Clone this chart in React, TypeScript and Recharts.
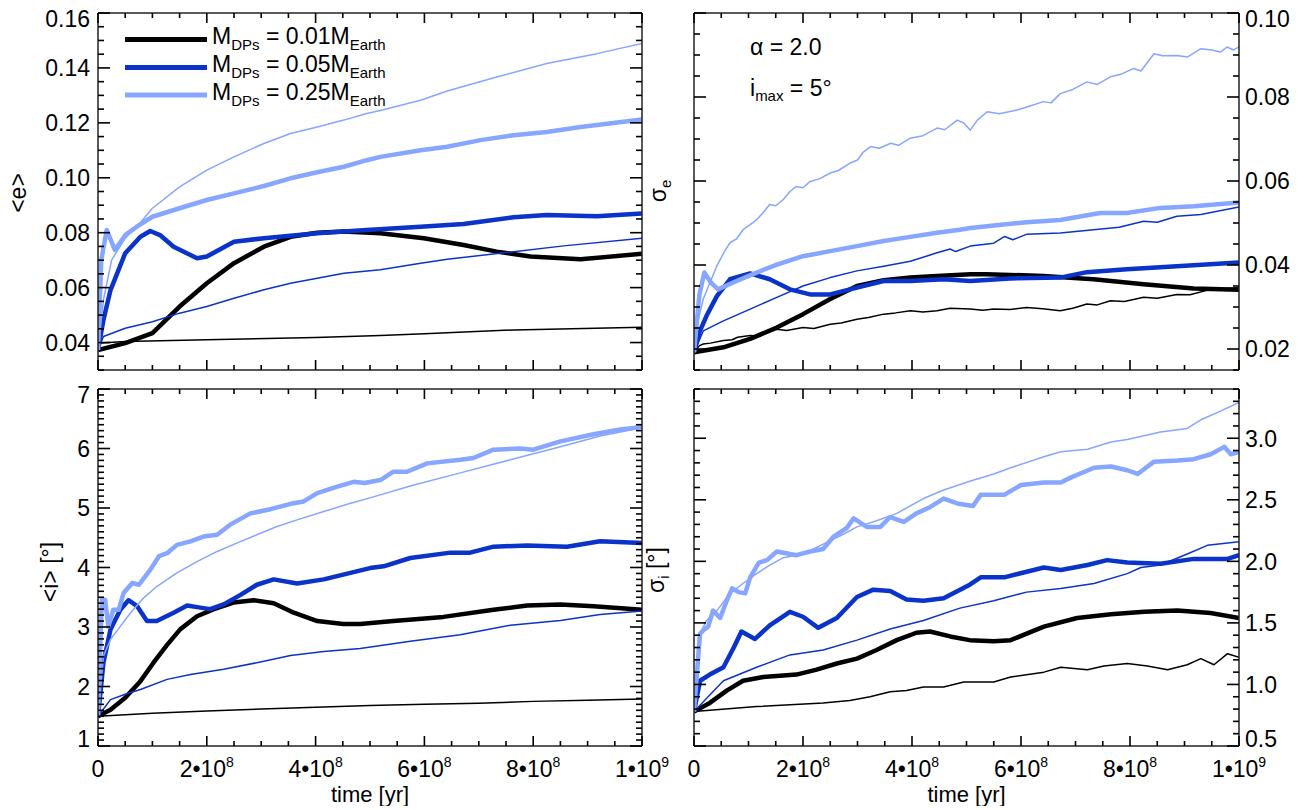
import React from "react";
import { LineChart, Line, XAxis, YAxis } from "recharts";

type Pt = [number, number];

const BLACK = "#000000";
const BLUE = "#0a33c9";
const LIGHT = "#86a6ff";
const AXIS = "#222222";
const TICK = "#000000";
const FONT = '"Liberation Sans", Arial, Helvetica, sans-serif';

// time axis in units of 1e8 yr
const X_TICK_STEP = 0.5;
const X_MAJOR_STEP = 2;
const X_LABELS: Record<number, [string, string]> = {
  0: ["0", ""],
  2: ["2•10", "8"],
  4: ["4•10", "8"],
  6: ["6•10", "8"],
  8: ["8•10", "8"],
  10: ["1•10", "9"],
};

// ---- <e> ----
const eThickBlack: Pt[] = [[0,0.0373],[0.5,0.0398],[1,0.0434],[1.5,0.0531],[2,0.0616],[2.5,0.0689],[3.05,0.0749],[3.54,0.0785],[4.03,0.08],[4.52,0.0804],[5.19,0.0798],[5.99,0.078],[6.72,0.0755],[7.33,0.0731],[7.95,0.0713],[8.87,0.0703],[10,0.0723]];
const eThinBlack: Pt[] = [[0,0.0373],[0.05,0.0398],[0.5,0.0404],[2,0.041],[4,0.0418],[5.19,0.0426],[6,0.0432],[7.64,0.0446],[10,0.0456]];
const eThickBlue: Pt[] = [[0,0.0373],[0.1,0.0482],[0.23,0.0591],[0.5,0.0725],[0.78,0.0785],[0.96,0.0806],[1.15,0.079],[1.39,0.0749],[1.82,0.0707],[2,0.0713],[2.5,0.0767],[3.05,0.078],[4.03,0.0798],[4.94,0.081],[5.93,0.0822],[6.72,0.0832],[7.64,0.0856],[8.25,0.0864],[9.17,0.086],[10,0.087]];
const eThinBlue: Pt[] = [[0,0.0373],[0.1,0.0422],[0.5,0.0452],[1,0.0476],[1.5,0.0507],[2,0.0531],[2.5,0.0561],[3.05,0.0592],[3.54,0.0616],[4.03,0.0634],[4.52,0.0652],[5.19,0.0665],[5.93,0.0689],[6.42,0.0703],[7.64,0.0731],[8.56,0.0752],[10,0.078]];
const eThickLight: Pt[] = [[0,0.0373],[0.06,0.07],[0.16,0.081],[0.31,0.0737],[0.5,0.0791],[0.7,0.082],[1,0.0858],[1.5,0.0889],[2,0.0919],[2.5,0.0943],[3.05,0.097],[3.54,0.0998],[4.03,0.102],[4.52,0.104],[4.94,0.1064],[5.19,0.1076],[5.93,0.11],[6.42,0.1113],[7.03,0.1137],[7.64,0.1155],[8.25,0.1167],[8.87,0.1185],[10,0.1212]];
const eThinLight: Pt[] = [[0,0.0373],[0.1,0.0555],[0.25,0.07],[0.5,0.078],[0.75,0.083],[1,0.0889],[1.5,0.0967],[2,0.1028],[2.5,0.1076],[3.05,0.1125],[3.54,0.1161],[4.03,0.1185],[4.52,0.121],[4.94,0.1234],[5.19,0.1245],[5.93,0.1282],[6.42,0.1316],[7.33,0.1367],[8.25,0.1416],[9.17,0.1452],[10,0.1489]];

// ---- sigma_e ----
const seThickBlack: Pt[] = [[0,0.0192],[0.54,0.0204],[1.03,0.0224],[1.52,0.0251],[2,0.0283],[2.5,0.0319],[2.99,0.035],[3.48,0.0364],[3.97,0.037],[4.46,0.0374],[5.07,0.0378],[5.37,0.0378],[6.41,0.0374],[7.33,0.0366],[8.25,0.0354],[9.17,0.0344],[10,0.0341]];
const seThinBlack: Pt[] = [[0,0.0192],[0.1,0.0208],[0.17,0.0212],[0.3,0.0214],[0.54,0.022],[0.7,0.0222],[0.8,0.0228],[1.03,0.0232],[1.2,0.0231],[1.3,0.0238],[1.52,0.0247],[1.7,0.0244],[2,0.0251],[2.2,0.0249],[2.5,0.0259],[2.7,0.0262],[2.99,0.0271],[3.2,0.0275],[3.48,0.0283],[3.7,0.0286],[3.97,0.0291],[4.2,0.0288],[4.46,0.0291],[4.7,0.0297],[5.07,0.0295],[5.3,0.0292],[5.5,0.0295],[5.8,0.0294],[6.1,0.0299],[6.4,0.0296],[6.72,0.0291],[6.95,0.0297],[7.21,0.0307],[7.4,0.0305],[7.64,0.0315],[7.9,0.0313],[8.25,0.0323],[8.5,0.0321],[8.86,0.033],[9.1,0.0329],[9.48,0.0342],[9.75,0.0344],[10,0.0346]];
const seThickBlue: Pt[] = [[0,0.0192],[0.1,0.024],[0.23,0.0279],[0.42,0.0326],[0.66,0.0366],[1.03,0.038],[1.39,0.0366],[1.76,0.0342],[2.13,0.033],[2.5,0.033],[2.99,0.0346],[3.48,0.0362],[3.97,0.0362],[4.58,0.0366],[5.07,0.0362],[5.8,0.0368],[6.72,0.037],[7.21,0.0383],[7.94,0.039],[8.86,0.0397],[10,0.0406]];
const seThinBlue: Pt[] = [[0,0.0192],[0.17,0.0243],[0.54,0.0267],[1.03,0.0295],[1.52,0.0323],[2,0.035],[2.5,0.037],[2.99,0.0386],[3.48,0.0397],[3.97,0.0409],[4.46,0.0429],[4.7,0.0438],[4.8,0.0432],[5.07,0.0445],[5.5,0.0452],[5.7,0.0468],[5.85,0.046],[6.1,0.0473],[6.72,0.0476],[7.33,0.0484],[7.8,0.049],[8.25,0.0504],[8.5,0.0502],[8.86,0.0516],[9.3,0.052],[10,0.0538]];
const seThickLight: Pt[] = [[0,0.0192],[0.1,0.033],[0.19,0.0382],[0.3,0.036],[0.44,0.0342],[0.78,0.0362],[1.15,0.0382],[1.52,0.0401],[2,0.0421],[2.5,0.0433],[2.99,0.0445],[3.48,0.0457],[3.97,0.0467],[4.46,0.0477],[4.88,0.0484],[5.07,0.0488],[6.1,0.0502],[6.72,0.0507],[7.45,0.0524],[7.94,0.0524],[8.56,0.0536],[9.17,0.054],[10,0.0549]];
const seThinLight: Pt[] = [[0,0.0192],[0.08,0.027],[0.17,0.0319],[0.3,0.036],[0.42,0.0398],[0.55,0.043],[0.66,0.0453],[0.78,0.0462],[0.9,0.0484],[1.02,0.0495],[1.15,0.0508],[1.27,0.0525],[1.39,0.0544],[1.5,0.0541],[1.64,0.0556],[1.76,0.0575],[1.88,0.0587],[2,0.0584],[2.13,0.0599],[2.3,0.0605],[2.5,0.0619],[2.65,0.0625],[2.87,0.0643],[3,0.065],[3.1,0.0668],[3.24,0.0682],[3.4,0.0678],[3.61,0.069],[3.75,0.0685],[3.97,0.0702],[4.2,0.0708],[4.46,0.0726],[4.6,0.0722],[4.83,0.0745],[4.95,0.0738],[5.07,0.0721],[5.2,0.0745],[5.38,0.0765],[5.6,0.076],[5.93,0.0769],[6.15,0.0778],[6.41,0.0789],[6.55,0.0786],[6.72,0.0808],[6.95,0.0818],[7.21,0.0836],[7.4,0.083],[7.64,0.0848],[7.85,0.0855],[8.07,0.0868],[8.2,0.0862],[8.44,0.0903],[8.6,0.0898],[8.86,0.0899],[9.05,0.0895],[9.3,0.0915],[9.5,0.0912],[9.66,0.0907],[9.78,0.0919],[9.9,0.0912],[10,0.0919]];

// ---- <i> ----
const iThickBlack: Pt[] = [[0,1.5],[0.23,1.61],[0.5,1.81],[0.78,2.09],[1.02,2.4],[1.27,2.7],[1.51,2.96],[1.82,3.18],[2.13,3.3],[2.49,3.41],[2.86,3.45],[3.23,3.4],[3.6,3.24],[4.03,3.1],[4.51,3.05],[4.82,3.05],[5.43,3.1],[6.35,3.17],[7.27,3.29],[7.89,3.36],[8.5,3.38],[9.11,3.35],[10,3.29]];
const iThinBlack: Pt[] = [[0,1.5],[1,1.55],[2,1.59],[3,1.62],[4,1.65],[5,1.68],[6,1.7],[7,1.72],[8,1.75],[9,1.77],[10,1.79]];
const iThickBlue: Pt[] = [[0,1.5],[0.1,2.4],[0.23,2.96],[0.41,3.29],[0.56,3.45],[0.72,3.35],[0.9,3.1],[1.08,3.1],[1.39,3.24],[1.64,3.36],[1.85,3.33],[2.06,3.3],[2.31,3.38],[2.62,3.54],[2.92,3.71],[3.23,3.8],[3.66,3.73],[4.15,3.8],[4.64,3.91],[5,3.99],[5.25,4.02],[5.74,4.16],[6.48,4.25],[6.84,4.25],[7.27,4.35],[7.89,4.37],[8.62,4.35],[9.23,4.44],[10,4.41]];
const iThinBlue: Pt[] = [[0,1.5],[0.23,1.78],[0.5,1.87],[0.78,1.95],[1.27,2.12],[1.7,2.2],[2.31,2.29],[2.92,2.4],[3.54,2.52],[4.15,2.59],[4.82,2.64],[5.74,2.76],[6.66,2.87],[7.58,3.03],[8.5,3.11],[9.23,3.21],[10,3.27]];
const iThickLight: Pt[] = [[0,1.5],[0.07,3.46],[0.13,3.46],[0.19,3.01],[0.28,3.29],[0.38,3.29],[0.47,3.57],[0.63,3.74],[0.75,3.71],[0.96,3.96],[1.12,4.19],[1.27,4.24],[1.45,4.38],[1.7,4.44],[1.94,4.52],[2.19,4.55],[2.43,4.72],[2.8,4.91],[3.17,4.98],[3.54,5.07],[3.78,5.11],[4.03,5.25],[4.4,5.36],[4.7,5.44],[4.9,5.42],[5.19,5.47],[5.43,5.61],[5.68,5.61],[6.05,5.75],[6.66,5.81],[6.9,5.84],[7.27,5.98],[7.76,6],[8,5.98],[8.5,6.12],[9.11,6.24],[9.6,6.32],[10,6.36]];
const iThinLight: Pt[] = [[0,1.5],[0.1,2.51],[0.23,2.79],[0.41,3.01],[0.6,3.24],[0.84,3.49],[1.08,3.68],[1.45,3.91],[1.82,4.1],[2.19,4.27],[2.55,4.41],[2.92,4.55],[3.29,4.69],[3.66,4.8],[4.15,4.94],[4.64,5.08],[5,5.17],[5.74,5.37],[6.66,5.59],[7.58,5.81],[8.5,6.03],[9.23,6.21],[10,6.35]];

// ---- sigma_i ----
const siThickBlack: Pt[] = [[0,0.78],[0.29,0.85],[0.6,0.95],[0.9,1.03],[1.27,1.06],[1.88,1.08],[2.25,1.12],[2.62,1.17],[2.99,1.21],[3.35,1.28],[3.72,1.36],[4.08,1.42],[4.33,1.43],[4.7,1.39],[5.06,1.36],[5.5,1.35],[5.81,1.36],[6.42,1.47],[7.03,1.54],[7.65,1.57],[8.26,1.59],[8.87,1.6],[9.48,1.58],[10,1.54]];
const siThinBlack: Pt[] = [[0,0.78],[1.15,0.82],[2.37,0.85],[2.86,0.87],[3.23,0.9],[3.6,0.94],[3.9,0.95],[4.21,0.98],[4.58,0.98],[4.95,1.02],[5.5,1.02],[5.81,1.06],[6.42,1.1],[6.73,1.14],[7.22,1.12],[7.52,1.15],[7.95,1.17],[8.32,1.15],[8.69,1.12],[9.05,1.16],[9.3,1.21],[9.54,1.16],[9.79,1.25],[10,1.22]];
const siThickBlue: Pt[] = [[0,0.78],[0.11,1.03],[0.29,1.08],[0.54,1.14],[0.73,1.3],[0.87,1.43],[1.12,1.37],[1.39,1.48],[1.76,1.59],[2,1.55],[2.28,1.46],[2.62,1.54],[2.99,1.71],[3.29,1.77],[3.6,1.76],[3.9,1.69],[4.21,1.68],[4.58,1.7],[5.06,1.81],[5.26,1.87],[5.69,1.87],[6.42,1.95],[6.73,1.93],[7.22,1.97],[7.58,2.01],[7.95,1.99],[8.56,1.98],[9.17,2.02],[9.79,2.02],[10,2.05]];
const siThinBlue: Pt[] = [[0,0.78],[0.54,1.03],[1.15,1.14],[1.76,1.24],[2.37,1.28],[2.99,1.36],[3.6,1.45],[4.21,1.52],[4.88,1.62],[5.5,1.68],[6.1,1.75],[6.73,1.78],[7.34,1.82],[7.95,1.9],[8.2,1.95],[8.56,1.97],[9.05,2.06],[9.42,2.13],[10,2.16]];
const siThickLight: Pt[] = [[0,0.78],[0.11,1.41],[0.17,1.44],[0.26,1.47],[0.35,1.6],[0.48,1.54],[0.6,1.68],[0.7,1.78],[0.82,1.75],[0.94,1.74],[1.03,1.87],[1.19,1.99],[1.34,2.01],[1.52,2.08],[1.88,2.05],[2.13,2.08],[2.37,2.1],[2.56,2.2],[2.8,2.27],[2.93,2.35],[3.17,2.28],[3.42,2.28],[3.6,2.36],[3.85,2.32],[4.08,2.39],[4.33,2.44],[4.58,2.51],[4.83,2.47],[5.12,2.45],[5.26,2.54],[5.69,2.54],[6,2.62],[6.42,2.64],[6.73,2.64],[6.91,2.68],[7.34,2.76],[7.65,2.77],[7.95,2.74],[8.14,2.71],[8.44,2.81],[8.87,2.82],[9.17,2.83],[9.48,2.87],[9.73,2.93],[9.85,2.87],[10,2.89]];
const siThinLight: Pt[] = [[0,0.78],[0.11,1.41],[0.23,1.52],[0.42,1.6],[0.66,1.74],[0.9,1.82],[1.15,1.9],[1.39,1.97],[1.64,2.03],[2,2.06],[2.37,2.14],[2.74,2.22],[2.99,2.28],[3.35,2.33],[3.72,2.39],[4.21,2.51],[4.58,2.58],[5.06,2.65],[5.5,2.71],[5.81,2.76],[6.42,2.85],[6.73,2.89],[7.22,2.91],[7.65,2.97],[7.95,2.99],[8.56,3.05],[9.05,3.08],[9.3,3.15],[9.66,3.22],[10,3.29]];

const THICK = 4.5;
const THIN = 1.5;
const MINOR_LEN = 6;
const MAJOR_LEN = 12;

type Series = { pts: Pt[]; color: string; width: number };

function range(lo: number, hi: number, step: number) {
  const out: number[] = [];
  const n = Math.round((hi - lo) / step);
  for (let i = 0; i <= n; i++) out.push(Math.round((lo + i * step) * 1e6) / 1e6);
  return out;
}
const isMajor = (v: number, step: number) => Math.abs(v / step - Math.round(v / step)) < 1e-6;
const rows = (pts: Pt[]) => pts.map(([t, v]) => ({ t, v }));

const X_TICKS = range(0, 10, X_TICK_STEP);

function XTick(props: any) {
  const x = Number(props.x);
  const y = Number(props.y);
  const v = Number(props.payload.value);
  const side: "top" | "bottom" = props.side;
  const major = isMajor(v, X_MAJOR_STEP);
  const len = major ? MAJOR_LEN - 2 : MINOR_LEN - 1;
  const dir = side === "bottom" ? -1 : 1;
  const lab = X_LABELS[v];
  return (
    <g>
      <line x1={x} y1={y} x2={x} y2={y + dir * len} stroke={TICK} strokeWidth={1.6} />
      {props.showLabel && major && lab && (
        <text x={x} y={y + 31} textAnchor="middle" fontSize={23} fontFamily={FONT} fill="#000">
          {lab[0]}
          {lab[1] && (
            <tspan dy={-10} fontSize={14}>
              {lab[1]}
            </tspan>
          )}
        </text>
      )}
    </g>
  );
}

function YTick(props: any) {
  const x = Number(props.x);
  const y = Number(props.y);
  const v = Number(props.payload.value);
  const side: "left" | "right" = props.side;
  const maj = isMajor(v, props.major);
  const len = maj ? MAJOR_LEN : MINOR_LEN;
  const dir = side === "left" ? 1 : -1;
  let ly = y;
  if (Math.abs(v - props.hi) < 1e-9) ly += 6;
  if (Math.abs(v - props.lo) < 1e-9) ly -= 7;
  return (
    <g>
      <line x1={x} y1={y} x2={x + dir * len} y2={y} stroke={TICK} strokeWidth={1.6} />
      {props.showLabel && maj && (
        <text
          x={side === "left" ? x - 8 : x + 6}
          y={ly}
          dy="0.36em"
          textAnchor={side === "left" ? "end" : "start"}
          fontSize={23}
          fontFamily={FONT}
          fill="#000"
        >
          {v.toFixed(props.digits)}
        </text>
      )}
    </g>
  );
}

type PanelProps = {
  left: number;
  top: number;
  w: number;
  h: number;
  yDomain: [number, number];
  yMajor: number;
  yMinor: number;
  digits: number;
  labelSide: "left" | "right";
  xLabels: boolean;
  series: Series[];
};

function Panel(p: PanelProps) {
  const W = p.w + 200;
  const H = p.h + 80;
  const [lo, hi] = p.yDomain;
  const yTicks = range(lo, hi, p.yMinor);
  const yInfo = { major: p.yMajor, digits: p.digits, lo, hi };
  return (
    <div style={{ position: "absolute", left: p.left - 100, top: p.top - 20 }}>
      <LineChart width={W} height={H} margin={{ top: 10, right: 20, bottom: 0, left: 20 }}>
        <XAxis
          xAxisId="b"
          dataKey="t"
          type="number"
          orientation="bottom"
          height={60}
          domain={[0, 10]}
          ticks={X_TICKS}
          interval={0}
          allowDataOverflow
          axisLine={{ stroke: AXIS, strokeWidth: 1.5 }}
          tickLine={false}
          tickSize={0}
          tickMargin={0}
          tick={<XTick side="bottom" showLabel={p.xLabels} />}
          label={
            p.xLabels
              ? { value: "time [yr]", position: "insideBottom", offset: 4, fontSize: 22, fontFamily: FONT, fill: "#000" }
              : undefined
          }
        />
        <XAxis
          xAxisId="t"
          dataKey="t"
          type="number"
          orientation="top"
          height={10}
          domain={[0, 10]}
          ticks={X_TICKS}
          interval={0}
          allowDataOverflow
          axisLine={{ stroke: AXIS, strokeWidth: 1.5 }}
          tickLine={false}
          tickSize={0}
          tickMargin={0}
          tick={<XTick side="top" showLabel={false} />}
        />
        <YAxis
          yAxisId="l"
          type="number"
          orientation="left"
          width={80}
          domain={p.yDomain}
          ticks={yTicks}
          interval={0}
          allowDataOverflow
          axisLine={{ stroke: AXIS, strokeWidth: 1.5 }}
          tickLine={false}
          tickSize={0}
          tickMargin={0}
          tick={<YTick side="left" showLabel={p.labelSide === "left"} {...yInfo} />}
        />
        <YAxis
          yAxisId="r"
          type="number"
          orientation="right"
          width={80}
          domain={p.yDomain}
          ticks={yTicks}
          interval={0}
          allowDataOverflow
          axisLine={{ stroke: AXIS, strokeWidth: 1.5 }}
          tickLine={false}
          tickSize={0}
          tickMargin={0}
          tick={<YTick side="right" showLabel={p.labelSide === "right"} {...yInfo} />}
        />
        {p.series.map((s, i) => (
          <Line
            key={i}
            xAxisId="b"
            yAxisId="l"
            data={rows(s.pts)}
            dataKey="v"
            type="linear"
            stroke={s.color}
            strokeWidth={s.width}
            strokeLinejoin="round"
            dot={false}
            activeDot={false}
            isAnimationActive={false}
          />
        ))}
      </LineChart>
    </div>
  );
}

const txt = { fontFamily: FONT, fill: "#000" };

function Overlay() {
  const legend = [
    { y: 39.5, color: BLACK, mass: "0.01" },
    { y: 67.5, color: BLUE, mass: "0.05" },
    { y: 95, color: LIGHT, mass: "0.25" },
  ];
  return (
    <svg width={1312} height={810} style={{ position: "absolute", left: 0, top: 0, pointerEvents: "none" }}>
      {legend.map((l) => (
        <g key={l.mass}>
          <line x1={125} x2={207} y1={l.y} y2={l.y} stroke={l.color} strokeWidth={5} />
          <text x={212} y={l.y + 4.5} fontSize={23} {...txt}>
            M
            <tspan fontSize={15} dy={6}>DPs</tspan>
            <tspan dy={-6}>{` = ${l.mass}M`}</tspan>
            <tspan fontSize={15} dy={6}>Earth</tspan>
          </text>
        </g>
      ))}
      <text x={750} y={55} fontSize={23} {...txt}>α = 2.0</text>
      <text x={750} y={96} fontSize={23} {...txt}>
        i<tspan fontSize={15} dy={5}>max</tspan>
        <tspan dy={-5}> = 5°</tspan>
      </text>
      <text x={26} y={193} transform="rotate(-90 26 193)" textAnchor="middle" fontSize={23} {...txt}>
        {"<e>"}
      </text>
      <text x={58} y={572} transform="rotate(-90 58 572)" textAnchor="middle" fontSize={23} {...txt}>
        {"<i> [°]"}
      </text>
      <text x={666} y={191} transform="rotate(-90 666 191)" textAnchor="middle" fontSize={23} {...txt}>
        σ<tspan fontSize={15} dy={5}>e</tspan>
      </text>
      <text x={664} y={570} transform="rotate(-90 664 570)" textAnchor="middle" fontSize={23} {...txt}>
        σ<tspan fontSize={15} dy={5}>i</tspan>
        <tspan dy={-5}> [°]</tspan>
      </text>
    </svg>
  );
}

const set = (tb: Pt[], tn: Pt[], bb: Pt[], bn: Pt[], lb: Pt[], ln: Pt[]): Series[] => [
  { pts: tb, color: BLACK, width: THICK },
  { pts: tn, color: BLACK, width: THIN },
  { pts: bb, color: BLUE, width: THICK },
  { pts: bn, color: BLUE, width: THIN },
  { pts: lb, color: LIGHT, width: THICK },
  { pts: ln, color: LIGHT, width: THIN },
];

export default function App() {
  return (
    <div style={{ position: "absolute", left: 0, top: 0, width: 1312, height: 810, background: "#fff", overflow: "hidden" }}>
      <Panel
        left={98} top={13} w={544} h={357}
        yDomain={[0.03, 0.16]} yMajor={0.02} yMinor={0.005} digits={2}
        labelSide="left" xLabels={false}
        series={set(eThickBlack, eThinBlack, eThickBlue, eThinBlue, eThickLight, eThinLight)}
      />
      <Panel
        left={694} top={13} w={545} h={357}
        yDomain={[0.015, 0.1]} yMajor={0.02} yMinor={0.005} digits={2}
        labelSide="right" xLabels={false}
        series={set(seThickBlack, seThinBlack, seThickBlue, seThinBlue, seThickLight, seThinLight)}
      />
      <Panel
        left={98} top={389} w={544} h={357}
        yDomain={[1, 7]} yMajor={1} yMinor={0.1} digits={0}
        labelSide="left" xLabels={true}
        series={set(iThickBlack, iThinBlack, iThickBlue, iThinBlue, iThickLight, iThinLight)}
      />
      <Panel
        left={694} top={389} w={545} h={357}
        yDomain={[0.5, 3.4]} yMajor={0.5} yMinor={0.1} digits={1}
        labelSide="right" xLabels={true}
        series={set(siThickBlack, siThinBlack, siThickBlue, siThinBlue, siThickLight, siThinLight)}
      />
      <Overlay />
    </div>
  );
}
